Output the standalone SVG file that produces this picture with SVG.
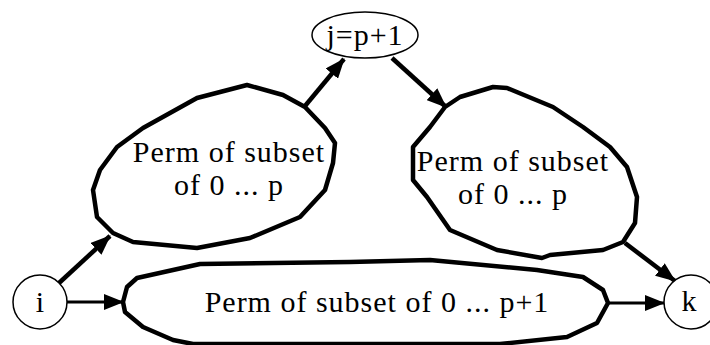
<svg xmlns="http://www.w3.org/2000/svg" width="710" height="345" viewBox="0 0 710 345">
<style>
.blob{fill:#fff;stroke:#000;stroke-width:4.5;stroke-linejoin:round}
.node{fill:#fff;stroke:#000;stroke-width:1.5}
text{font-family:"Liberation Serif","Times New Roman",serif;font-size:30px;fill:#000;text-anchor:middle}
.sp{letter-spacing:1px}
.c{stroke:#000;stroke-width:4.5;fill:none}
.ch{stroke:#000;stroke-width:3;fill:none}
</style>
<defs>
<marker id="ah" markerUnits="userSpaceOnUse" markerWidth="20" markerHeight="16" refX="19" refY="8" orient="auto">
<path d="M0,0 L20,8 L0,16 z" fill="#000"/>
</marker>
</defs>
<rect width="710" height="345" fill="#fff"/>
<g id="connectors">
<line class="c" x1="59" y1="283" x2="110" y2="236" marker-end="url(#ah)"/>
<line class="c" x1="305" y1="106" x2="344" y2="59" marker-end="url(#ah)"/>
<line class="c" x1="392" y1="58" x2="446" y2="107" marker-end="url(#ah)"/>
<line class="c" x1="625" y1="243" x2="675" y2="281" marker-end="url(#ah)"/>
<line class="ch" x1="67" y1="302" x2="123" y2="302" marker-end="url(#ah)"/>
<line class="ch" x1="608" y1="303" x2="664" y2="303" marker-end="url(#ah)"/>
</g>
<g id="j">
<ellipse class="node" cx="365" cy="35" rx="53" ry="23"/>
<text class="sp" x="365" y="45">j=p+1</text>
</g>
<g id="i">
<circle class="node" cx="40" cy="302" r="27"/>
<text x="40" y="312">i</text>
</g>
<g id="k">
<circle class="node" cx="691" cy="302" r="27"/>
<text x="689" y="311">k</text>
</g>
<g id="left">
<path class="blob" d="M247,85 L283,95 L305,107 L325,128 L335,143 L333,163 L325,190 L300,217 L250,238 L197,248 L133,242 L113,233 L97,217 L93,190 L100,170 L117,147 L143,128 L197,98 Z"/>
<text class="sp" x="229" y="162">Perm of subset</text>
<text class="sp" x="229" y="195">of 0 ... p</text>
</g>
<g id="right">
<path class="blob" d="M493,87 L507,88 L553,107 L583,127 L610,147 L627,167 L637,197 L635,223 L623,242 L603,250 L550,255 L542,258 L497,250 L450,230 L427,197 L413,180 L413,147 L430,127 L445,107 L460,97 Z"/>
<text class="sp" x="513" y="171">Perm of subset</text>
<text class="sp" x="513" y="204">of 0 ... p</text>
</g>
<g id="bottom">
<path class="blob" d="M123,302 L127,287 L137,278 L200,264 L350,262 L430,260 L537,270 L583,277 L603,290 L608,303 L597,323 L567,337 L500,344 L193,344 L173,340 L143,327 L125,312 Z"/>
<text class="sp" x="377" y="312">Perm of subset of 0 ... p+1</text>
</g>
</svg>
